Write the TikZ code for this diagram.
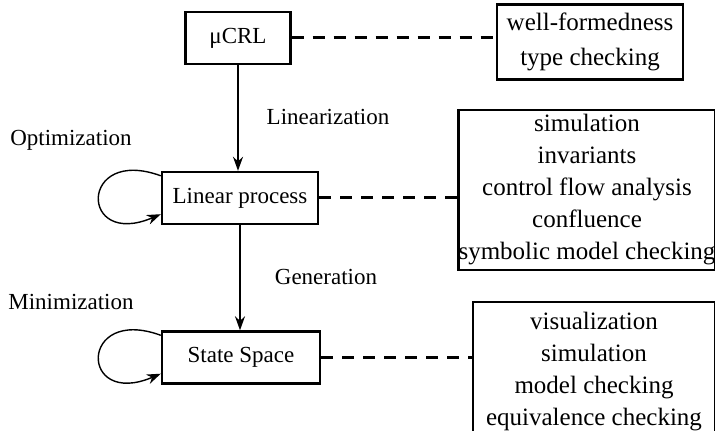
\documentclass[tikz,border=0pt]{standalone}
\usepackage{fontspec}
\setmainfont{Liberation Serif}
\usetikzlibrary{arrows.meta}

\tikzset{
  stage/.style={draw,line width=1.2pt,minimum height=26pt,inner sep=0pt,
    font=\fontsize{11.5}{14}\selectfont},
  toolbox/.style={draw,line width=1.2pt,align=center,inner sep=0pt,
    font=\fontsize{12.5}{16}\selectfont},
  steptag/.style={font=\fontsize{11.5}{14}\selectfont},
  link/.style={line width=1.5pt,dash pattern=on 6pt off 4.5pt},
  flow/.style={line width=0.7pt,-{Stealth[length=7pt,width=5pt]}},
}

\begin{document}
\begin{tikzpicture}[x=0.5pt,y=-0.5pt]
  \useasboundingbox (0,0) rectangle (715,431);

  % the three levels
  \node[stage,minimum width=52.5pt] (crl) at (238,38) {μCRL};
  \node[stage,minimum width=78pt] (lin) at (240,198) {Linear process};
  \node[stage,minimum width=79pt] (ss) at (241,357.5) {State Space};

  % what can be done at each level
  \node[toolbox,minimum width=93pt,minimum height=37.5pt,
    font=\fontsize{12.5}{17.5}\selectfont] (wf) at (590,42)
    {well-formedness\\type checking};
  \node[toolbox,minimum width=127pt,minimum height=80pt] (ana) at (587,190)
    {simulation\\invariants\\control flow analysis\\confluence\\symbolic model checking};
  \node[toolbox,minimum width=121pt,minimum height=70pt] (chk) at (594,372)
    {visualization\\simulation\\model checking\\equivalence checking};

  \draw[link] (crl.east) -- (crl.east -| wf.west);
  \draw[link] (lin.east) -- (lin.east -| ana.west);
  \draw[link] (ss.east) -- (ss.east -| chk.west);

  % transformations
  \draw[flow] (crl.south) -- (crl.south |- lin.north);
  \draw[flow] (lin.south) -- (lin.south |- ss.north);
  \node[steptag] (linz) at (328,117) {Linearization};
  \node[steptag] (gen) at (326,277) {Generation};

  \draw[flow] ([yshift=-2.5pt]lin.north west)
    .. controls +(-82,-30) and +(-82,35) .. ([yshift=5.5pt]lin.south west);
  \draw[flow] ([yshift=-2.5pt]ss.north west)
    .. controls +(-82,-30) and +(-82,35) .. ([yshift=5.5pt]ss.south west);
  \node[steptag] (opt) at (71,140) {Optimization};
  \node[steptag] (mini) at (71,302) {Minimization};
\end{tikzpicture}
\end{document}
